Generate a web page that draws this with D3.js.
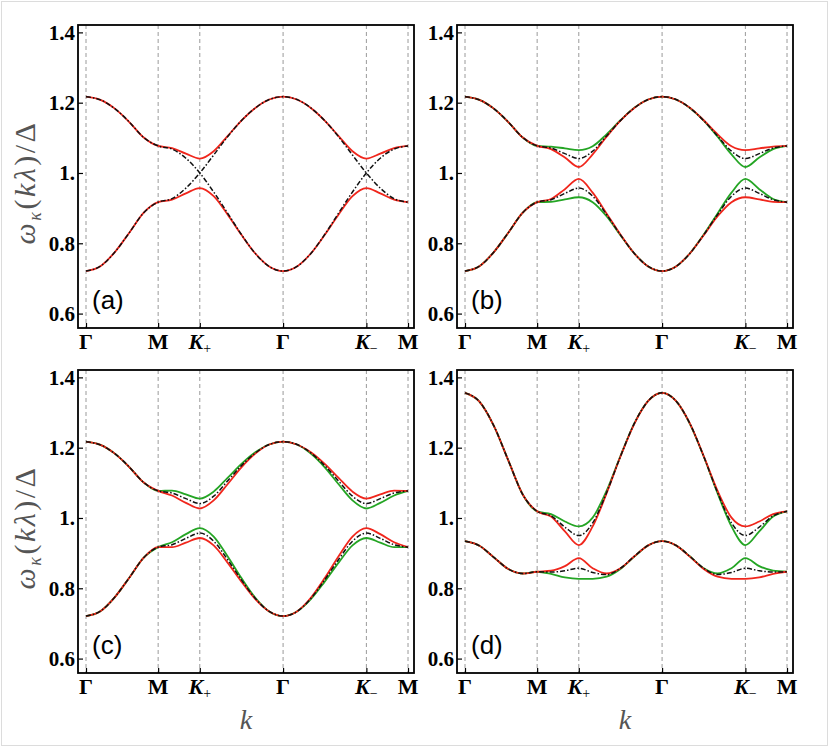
<!DOCTYPE html>
<html>
<head>
<meta charset="utf-8">
<script src="https://cdnjs.cloudflare.com/ajax/libs/d3/7.8.5/d3.min.js"></script>
<style>
body {margin:0; background:#fff;}
svg {display:block;}
</style>
</head>
<body>
<svg id="chart" width="830" height="748"></svg>
<script>
// path Γ-M-K+-Γ-K−-M, in units of |ΓM|
var kPoints = [0, 0.2, 0.4, 0.6, 0.8, 1.0,
    1.1925, 1.3849, 1.5774,
    1.7698, 1.9623, 2.1547, 2.3472, 2.5396, 2.7321,
    2.9245, 3.1170, 3.3094, 3.5019, 3.6943, 3.8868,
    4.0792, 4.2717, 4.4641];
var kTicks = [0, 1, 1.5774, 2.7321, 3.8868, 4.4641];
var kTickNames = ["Γ", "M", "K+", "Γ", "K−", "M"];
var yTicks = [0.6, 0.8, 1.0, 1.2, 1.4];
var yTickNames = ["0.6", "0.8", "1.", "1.2", "1.4"];
var panelNames = ["(a)", "(b)", "(c)", "(d)"];

// (a)
var aDashA = [1.217,1.208,1.183,1.145,1.101,1.077, 1.068,1.042,1.000, 0.946,0.886,0.825,0.771,0.734,0.721, 0.734,0.771,0.825,0.886,0.946,1.000, 1.042,1.068,1.077];
var aDashB = [0.721,0.735,0.775,0.830,0.887,0.917, 0.927,0.957,1.000, 1.051,1.103,1.149,1.185,1.209,1.217, 1.209,1.185,1.149,1.103,1.051,1.000, 0.957,0.927,0.917];
var aRedUp = [1.217,1.208,1.183,1.145,1.101,1.077, 1.071,1.055,1.041, 1.062,1.105,1.149,1.185,1.209,1.217, 1.209,1.185,1.149,1.105,1.062,1.041, 1.055,1.071,1.077];
var aRedLo = [0.721,0.735,0.775,0.830,0.887,0.917, 0.924,0.942,0.957, 0.934,0.882,0.824,0.771,0.734,0.721, 0.734,0.771,0.824,0.882,0.934,0.957, 0.942,0.924,0.917];

// (b)
var bDashUp = [1.217,1.208,1.183,1.145,1.101,1.077, 1.071,1.055,1.041, 1.062,1.105,1.149,1.185,1.209,1.217, 1.209,1.185,1.149,1.105,1.062,1.041, 1.055,1.071,1.077];
var bDashLo = [0.721,0.735,0.775,0.830,0.887,0.917, 0.924,0.942,0.957, 0.934,0.882,0.824,0.771,0.734,0.721, 0.734,0.771,0.824,0.882,0.934,0.957, 0.942,0.924,0.917];
var bRedUp = [1.217,1.208,1.183,1.145,1.101,1.077, 1.068,1.044,1.017, 1.053,1.103,1.149,1.185,1.209,1.217, 1.209,1.186,1.150,1.110,1.076,1.065, 1.070,1.075,1.077];
var bRedLo = [0.721,0.735,0.775,0.830,0.887,0.917, 0.926,0.954,0.983, 0.944,0.885,0.825,0.771,0.734,0.721, 0.734,0.771,0.823,0.877,0.917,0.931, 0.925,0.918,0.917];
var bGreenUp = [1.217,1.208,1.183,1.145,1.101,1.077, 1.075,1.070,1.065, 1.076,1.110,1.150,1.186,1.209,1.217, 1.209,1.185,1.149,1.103,1.053,1.017, 1.044,1.068,1.077];
var bGreenLo = [0.721,0.735,0.775,0.830,0.887,0.917, 0.918,0.925,0.931, 0.917,0.877,0.823,0.771,0.734,0.721, 0.734,0.771,0.825,0.885,0.944,0.983, 0.954,0.926,0.917];

// (c)
var cDashUp = [1.217,1.208,1.183,1.145,1.101,1.077, 1.071,1.055,1.041, 1.062,1.105,1.149,1.185,1.209,1.217, 1.209,1.185,1.149,1.105,1.062,1.041, 1.055,1.071,1.077];
var cDashLo = [0.721,0.735,0.775,0.830,0.887,0.917, 0.924,0.942,0.957, 0.934,0.882,0.824,0.771,0.734,0.721, 0.734,0.771,0.824,0.882,0.934,0.957, 0.942,0.924,0.917];
var cRedUp = [1.217,1.208,1.183,1.145,1.101,1.077, 1.064,1.043,1.027, 1.050,1.096,1.144,1.183,1.209,1.217, 1.209,1.187,1.154,1.114,1.075,1.055, 1.067,1.078,1.077];
var cRedLo = [0.721,0.735,0.775,0.830,0.887,0.917, 0.917,0.930,0.943, 0.922,0.873,0.819,0.769,0.734,0.721, 0.734,0.773,0.829,0.891,0.947,0.971, 0.954,0.931,0.917];
var cGreenUp = [1.217,1.208,1.183,1.145,1.101,1.077, 1.078,1.067,1.055, 1.075,1.114,1.154,1.187,1.209,1.217, 1.209,1.183,1.144,1.096,1.050,1.027, 1.043,1.064,1.077];
var cGreenLo = [0.721,0.735,0.775,0.830,0.887,0.917, 0.931,0.954,0.971, 0.947,0.891,0.829,0.773,0.734,0.721, 0.734,0.769,0.819,0.873,0.922,0.943, 0.930,0.917,0.917];

// (d)
var dDashUp = [1.356,1.331,1.262,1.164,1.067,1.019, 1.006,0.974,0.950, 0.986,1.072,1.175,1.269,1.333,1.356, 1.333,1.269,1.175,1.072,0.986,0.950, 0.974,1.006,1.019];
var dDashLo = [0.934,0.921,0.888,0.855,0.842,0.847, 0.846,0.850,0.857, 0.845,0.839,0.857,0.891,0.922,0.934, 0.922,0.891,0.857,0.839,0.845,0.857, 0.850,0.846,0.847];
var dRedUp = [1.356,1.331,1.262,1.164,1.067,1.019, 1.004,0.962,0.923, 0.976,1.070,1.175,1.268,1.333,1.356, 1.333,1.269,1.176,1.077,1.001,0.976, 0.990,1.011,1.019];
var dRedLo = [0.934,0.921,0.888,0.855,0.842,0.847, 0.850,0.863,0.886, 0.857,0.842,0.857,0.891,0.922,0.934, 0.922,0.890,0.855,0.833,0.827,0.827, 0.831,0.841,0.847];
var dGreenUp = [1.356,1.331,1.262,1.164,1.067,1.019, 1.011,0.990,0.976, 1.001,1.077,1.176,1.269,1.333,1.356, 1.333,1.268,1.175,1.070,0.976,0.923, 0.962,1.004,1.019];
var dGreenLo = [0.934,0.921,0.888,0.855,0.842,0.847, 0.841,0.831,0.827, 0.827,0.833,0.855,0.890,0.922,0.934, 0.922,0.891,0.857,0.842,0.857,0.886, 0.863,0.850,0.847];

var RED = "#f0261c", GREEN = "#24a524", DASH = "#111";
var W = 336, H = 303;
var SERIF = "'Liberation Serif', 'Times New Roman', serif";

function drawPanel(svg, idx, left, top, curves, yLabel, xLabel) {
    var g = svg.append("g").attr("transform", "translate(" + left + "," + top + ")");
    var xScale = d3.scaleLinear().domain([-0.111, 4.547]).range([0, W]);
    var yScale = d3.scaleLinear().domain([0.559, 1.421]).range([H, 0]);

    // vertical dashed lines at high-symmetry points
    g.selectAll("line.kline").data(kTicks).enter()
        .append("line")
        .attr("class", "kline")
        .attr("x1", (d) => xScale(d)).attr("x2", (d) => xScale(d))
        .attr("y1", 0).attr("y2", H)
        .attr("stroke", "#9a9a9a")
        .attr("stroke-width", 1)
        .attr("stroke-dasharray", "4,3");

    var line = d3.line()
        .x((d, i) => xScale(kPoints[i]))
        .y((d) => yScale(d))
        .curve(d3.curveMonotoneX);

    curves.forEach((c) => {
        var p = g.append("path")
            .attr("d", line(c.values))
            .attr("fill", "none")
            .attr("stroke", c.color)
            .attr("stroke-width", c.dash ? 1.5 : 1.8);
        if (c.dash) p.attr("stroke-dasharray", "5,2,1.5,2");
    });

    // y axis, ticks pointing in
    var yAxis = g.append("g").call(
        d3.axisLeft(yScale).tickValues(yTicks)
            .tickFormat((d, i) => yTickNames[i])
            .tickSizeInner(-5).tickSizeOuter(0).tickPadding(3)
    );
    yAxis.select(".domain").remove();
    yAxis.selectAll("line").attr("stroke", "#000").attr("stroke-width", 1.2);
    yAxis.selectAll("text")
        .attr("x", -3)
        .style("font-family", SERIF)
        .style("font-weight", "bold")
        .style("font-size", "21px")
        .attr("fill", "#000");

    // k axis
    var xAxis = g.append("g").attr("transform", "translate(0," + H + ")").call(
        d3.axisBottom(xScale).tickValues(kTicks).tickFormat("")
            .tickSizeInner(-5).tickSizeOuter(0)
    );
    xAxis.select(".domain").remove();
    xAxis.selectAll("line").attr("stroke", "#000").attr("stroke-width", 1.2);

    kTicks.forEach((k, i) => {
        var t = g.append("text")
            .attr("x", xScale(k))
            .attr("y", H + 21)
            .attr("text-anchor", "middle")
            .style("font-family", SERIF)
            .style("font-weight", "bold")
            .style("font-size", "22px")
            .attr("fill", "#000");
        var name = kTickNames[i];
        if (name.charAt(0) == "K") {
            t.append("tspan").style("font-style", "italic").text("K");
            t.append("tspan").attr("dy", 4).style("font-size", "14px")
                .style("font-weight", "normal").text(name.charAt(1));
        } else {
            t.text(name);
        }
    });

    // frame
    g.append("rect")
        .attr("x", 0).attr("y", 0).attr("width", W).attr("height", H)
        .attr("fill", "none").attr("stroke", "#000").attr("stroke-width", 1.8);

    g.append("text")
        .attr("x", 14).attr("y", 284)
        .style("font-family", "'Liberation Sans', Arial, sans-serif")
        .style("font-size", "26px")
        .text(panelNames[idx]);

    if (yLabel) {
        var yl = g.append("text")
            .attr("transform", "translate(-43," + (H / 2 + 6) + ") rotate(-90)")
            .attr("text-anchor", "middle")
            .style("font-family", SERIF)
            .style("font-size", "30px")
            .style("letter-spacing", "2.5px")
            .attr("fill", "#555");
        yl.append("tspan").style("font-style", "italic").text("ω");
        yl.append("tspan").style("font-style", "italic").style("font-size", "18px").attr("dy", 6).text("κ");
        yl.append("tspan").attr("dy", -6).text("(");
        yl.append("tspan").style("font-style", "italic").text("kλ");
        yl.append("tspan").text(")/Δ");
    }
    if (xLabel) {
        g.append("text")
            .attr("x", W / 2).attr("y", H + 56)
            .attr("text-anchor", "middle")
            .style("font-family", SERIF)
            .style("font-style", "italic")
            .style("font-size", "28px")
            .attr("fill", "#555")
            .text("k");
    }
}

var svg = d3.select("#chart");
svg.append("rect")
    .attr("x", 1.5).attr("y", 1.5).attr("width", 826).attr("height", 744)
    .attr("fill", "#fff").attr("stroke", "#dcdcdc").attr("stroke-width", 1);

drawPanel(svg, 0, 78, 25, [
    {values: aRedUp, color: RED}, {values: aRedLo, color: RED},
    {values: aDashA, color: DASH, dash: true}, {values: aDashB, color: DASH, dash: true}
], true, false);
drawPanel(svg, 1, 457, 25, [
    {values: bGreenUp, color: GREEN}, {values: bGreenLo, color: GREEN},
    {values: bRedUp, color: RED}, {values: bRedLo, color: RED},
    {values: bDashUp, color: DASH, dash: true}, {values: bDashLo, color: DASH, dash: true}
], false, false);
drawPanel(svg, 2, 78, 370, [
    {values: cGreenUp, color: GREEN}, {values: cGreenLo, color: GREEN},
    {values: cRedUp, color: RED}, {values: cRedLo, color: RED},
    {values: cDashUp, color: DASH, dash: true}, {values: cDashLo, color: DASH, dash: true}
], true, true);
drawPanel(svg, 3, 457, 370, [
    {values: dGreenUp, color: GREEN}, {values: dGreenLo, color: GREEN},
    {values: dRedUp, color: RED}, {values: dRedLo, color: RED},
    {values: dDashUp, color: DASH, dash: true}, {values: dDashLo, color: DASH, dash: true}
], false, true);
</script>
</body>
</html>
